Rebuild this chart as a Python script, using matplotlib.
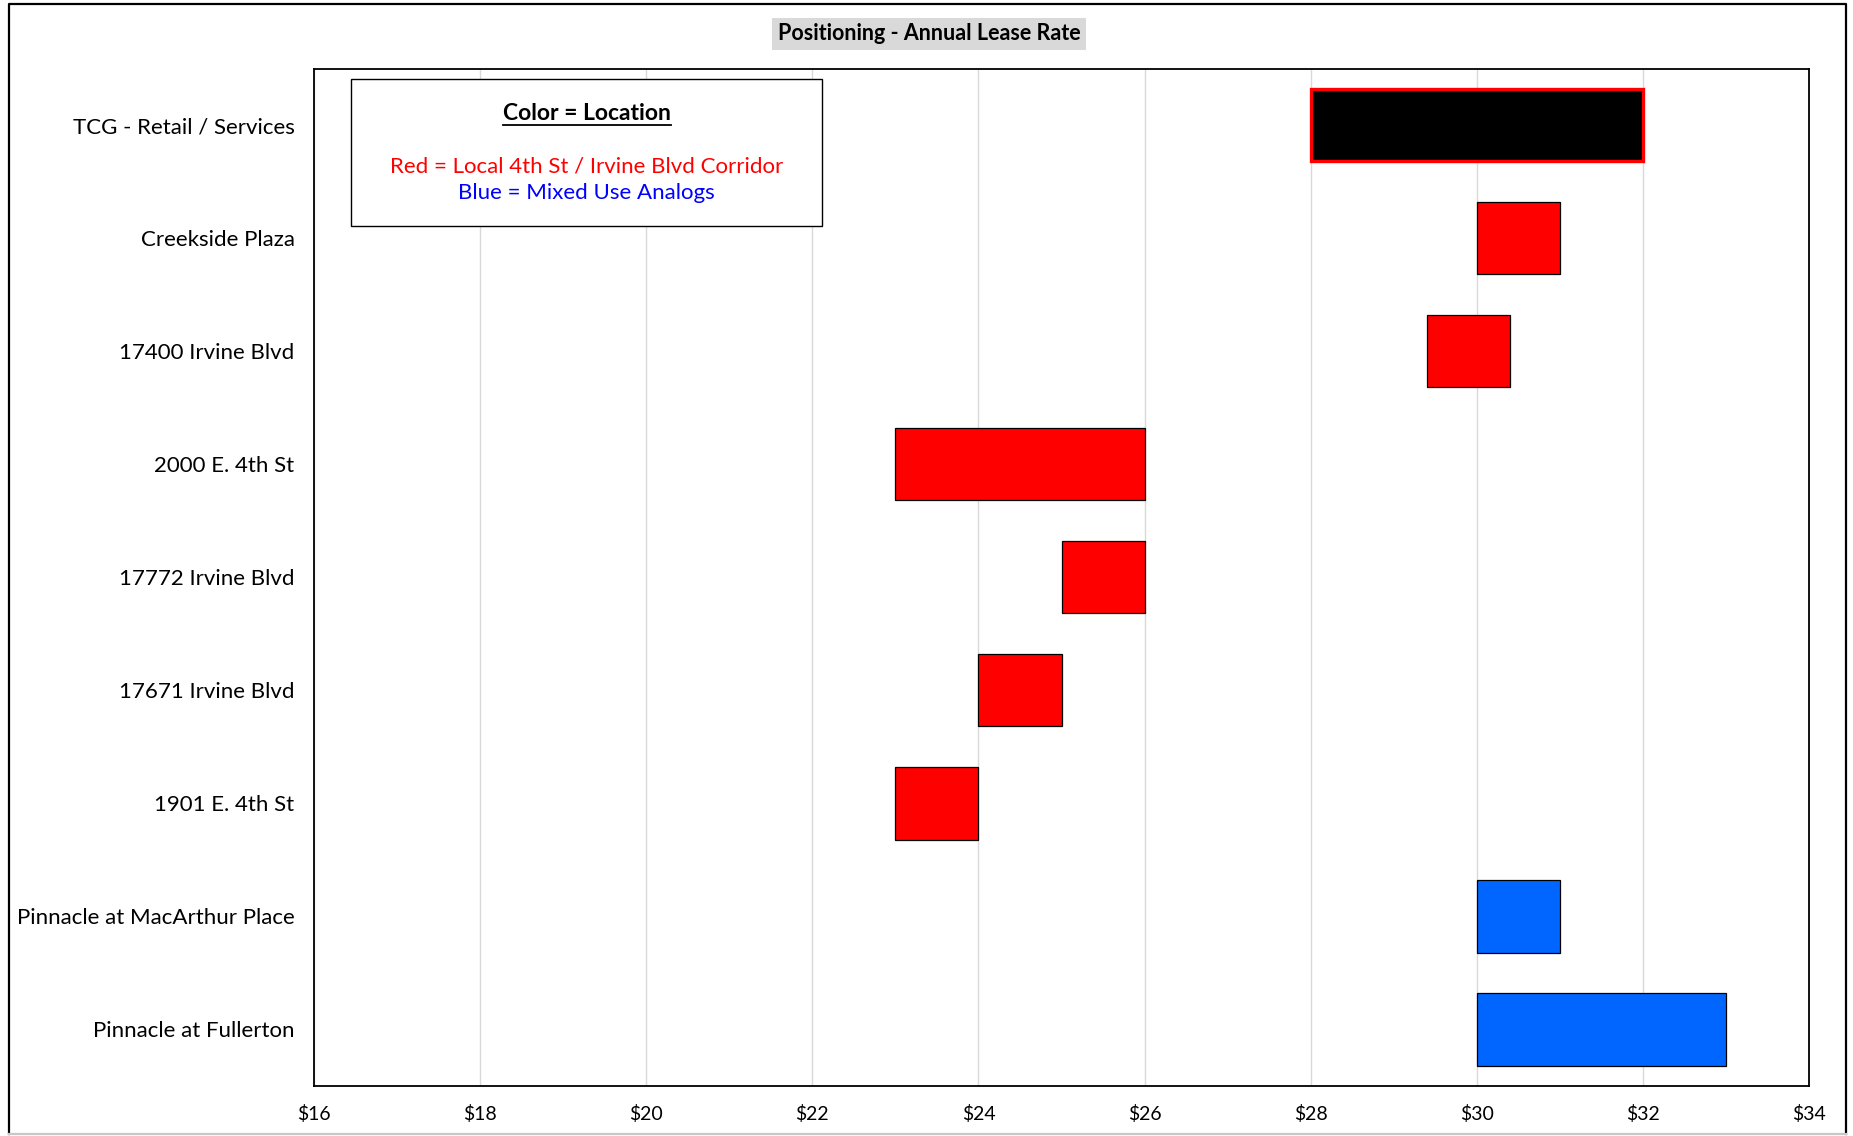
import matplotlib
matplotlib.use('Agg')
import matplotlib.pyplot as plt
from matplotlib.patches import Rectangle
from matplotlib.lines import Line2D

plt.rcParams['font.family'] = ['Lato', 'DejaVu Sans']

# Lease rate ranges ($ / sf / yr), top to bottom as drawn
properties = ['TCG - Retail / Services', 'Creekside Plaza', '17400 Irvine Blvd',
              '2000 E. 4th St', '17772 Irvine Blvd', '17671 Irvine Blvd',
              '1901 E. 4th St', 'Pinnacle at MacArthur Place', 'Pinnacle at Fullerton']
rate_low = [28.0, 30.0, 29.4, 23.0, 25.0, 24.0, 23.0, 30.0, 30.0]
rate_high = [32.0, 31.0, 30.4, 26.0, 26.0, 25.0, 24.0, 31.0, 33.0]
location = ['Subject', 'Local', 'Local', 'Local', 'Local', 'Local', 'Local',
            'Mixed', 'Mixed']
x_ticks = [16, 18, 20, 22, 24, 26, 28, 30, 32, 34]

fill = {'Subject': 'black', 'Local': '#ff0000', 'Mixed': '#0066ff'}
edge = {'Subject': '#ff0000', 'Local': 'black', 'Mixed': 'black'}
lw = {'Subject': 2.4, 'Local': 0.9, 'Mixed': 0.9}

fig = plt.figure(figsize=(18.53, 11.36), dpi=100)
ax = fig.add_axes([314 / 1853, 1 - 1086 / 1136, 1495 / 1853, 1017.5 / 1136])

ypos = list(range(len(properties)))
for y, lo, hi, loc in zip(ypos, rate_low, rate_high, location):
    ax.barh(y, hi - lo, left=lo, height=0.64, color=fill[loc],
            edgecolor=edge[loc], linewidth=lw[loc], zorder=3)

ax.set_xlim(16, 34)
ax.set_ylim(len(properties) - 0.5, -0.5)
ax.set_xticks(x_ticks)
ax.set_xticklabels(['$%d' % t for t in x_ticks], fontsize=14)
ax.set_yticks(ypos)
ax.set_yticklabels(properties, fontsize=16)
ax.tick_params(length=0, axis='y', pad=14)
ax.tick_params(length=0, axis='x', pad=14)
ax.grid(axis='x', color='#d9d9d9', linewidth=1.0, zorder=0)
ax.set_axisbelow(True)
for s in ax.spines.values():
    s.set_linewidth(1.3)
    s.set_color('black')

# Title with grey box
fig.text(929 / 1853, 1 - 34 / 1136, 'Positioning - Annual Lease Rate',
         ha='center', va='center', fontsize=15.5, fontweight='bold',
         bbox=dict(facecolor='#d9d9d9', edgecolor='none', pad=4))

# Legend box
ax.add_patch(Rectangle((0.025, 0.845), 0.315, 0.145, transform=ax.transAxes,
                       facecolor='white', edgecolor='black', linewidth=1.0,
                       zorder=5))
cx = 0.1825
t1 = ax.text(cx, 0.9558, 'Color = Location', transform=ax.transAxes,
             ha='center', va='center', fontsize=16.5, fontweight='bold', zorder=6)
ax.text(cx, 0.9036, 'Red = Local 4th St / Irvine Blvd Corridor',
        transform=ax.transAxes, ha='center', va='center', fontsize=16,
        color='#ff0000', zorder=6)
ax.text(cx, 0.878, 'Blue = Mixed Use Analogs', transform=ax.transAxes,
        ha='center', va='center', fontsize=16, color='#0000ff', zorder=6)

# underline the legend heading
fig.canvas.draw()
bb = t1.get_window_extent().transformed(ax.transAxes.inverted())
ax.add_line(Line2D([bb.x0, bb.x1], [bb.y0 - 0.001, bb.y0 - 0.001],
                   transform=ax.transAxes, color='black', linewidth=1.3,
                   zorder=6))

# outer frame of the chart
fig.add_artist(Line2D([0.005, 0.005, 0.9962, 0.9962], [0.0018, 0.9965, 0.9965, 0.0018],
                      transform=fig.transFigure, color='black', linewidth=1.6))
fig.add_artist(Line2D([0.005, 0.9962], [0.0018, 0.0018],
                      transform=fig.transFigure, color='#c8c8c8', linewidth=1.6))

fig.savefig('out.png', dpi=100, facecolor='white')
